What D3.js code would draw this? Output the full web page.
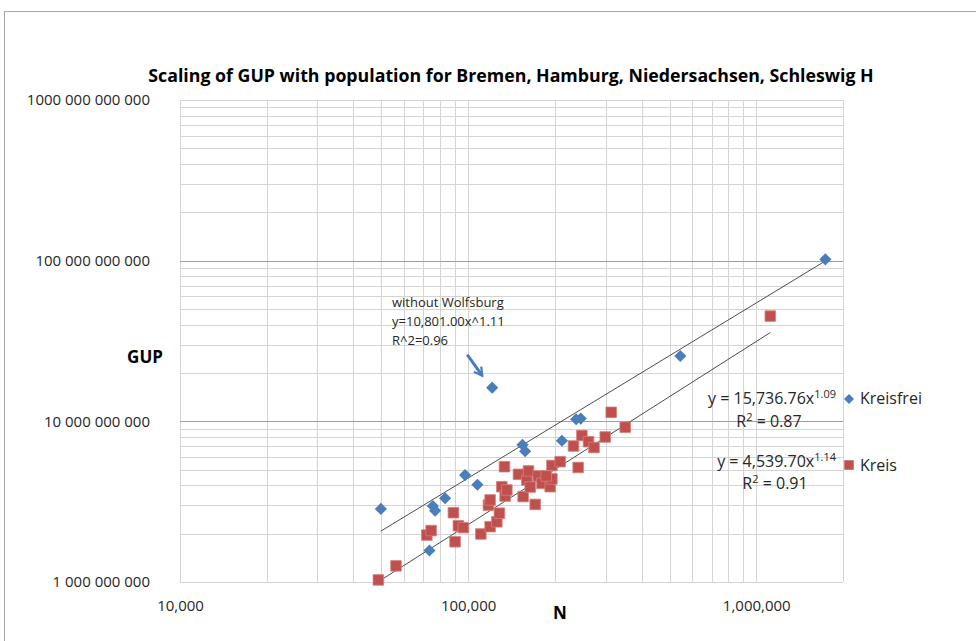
<!DOCTYPE html>
<html>
<head>
<meta charset="utf-8">
<script src="https://d3js.org/d3.v7.min.js"></script>
<style>
	body { margin: 0; background: #fff; }
	text { font-family: "Open Sans", sans-serif; }
	.tick text { fill: #262626; font-size: 15px; }
</style>
</head>
<body>
<div id="chart"></div>
<script>
//--------------------------------- Data ---------------------------------------
// Kreisfreie Staedte: population N and GUP
var kreisfreiN   = [49800, 1737000, 545000, 121200, 237000, 246000, 211600, 154400, 157700, 97600, 107700, 83200, 75400, 76800, 73400];
var kreisfreiGUP = [2.85e9, 1.019e11, 2.55e10, 1.62e10, 1.03e10, 1.04e10, 7.57e9, 7.15e9, 6.51e9, 4.63e9, 4.03e9, 3.32e9, 2.97e9, 2.78e9, 1.57e9];

// Kreise
var kreisN   = [48800, 56200, 71900, 74400, 88900, 90100, 92500, 96300, 110700, 117600,
                119200, 119200, 125800, 128400, 130900, 134400, 136300, 133700, 149500, 155200,
                159900, 162000, 170900, 175000, 180300, 192600, 195300, 195300, 208600, 232100,
                240900, 248200, 261700, 273500, 299100, 313700, 350900, 1118600, 186600, 164200];
var kreisGUP = [1.03e9, 1.26e9, 1.96e9, 2.09e9, 2.70e9, 1.78e9, 2.24e9, 2.18e9, 1.99e9, 3.01e9,
                3.24e9, 2.21e9, 2.37e9, 2.68e9, 3.92e9, 3.43e9, 3.74e9, 5.22e9, 4.68e9, 3.40e9,
                4.31e9, 4.91e9, 3.04e9, 4.57e9, 4.11e9, 3.92e9, 4.38e9, 5.31e9, 5.61e9, 7.02e9,
                5.16e9, 8.16e9, 7.47e9, 6.87e9, 7.99e9, 1.138e10, 9.19e9, 4.52e10, 4.57e9, 3.90e9];

// power law fits y = a * x^b
var trendA = [15736.76, 4539.70];
var trendB = [1.09, 1.14];
var trendR2 = ["0.87", "0.91"];
var seriesNames = ["Kreisfrei", "Kreis"];

var xTickValues = [1e4, 1e5, 1e6];
var xTickLabels = ["10,000", "100,000", "1,000,000"];
var yTickValues = [1e9, 1e10, 1e11, 1e12];
var yTickLabels = ["1 000 000 000", "10 000 000 000", "100 000 000 000", "1000 000 000 000"];

//--------------------------------- Set up svg ---------------------------------------
var width = 976, height = 641;
var plot = {left: 180, right: 843, top: 100, bottom: 582};

var svg = d3.select("#chart")
	.append("svg")
	.attr("width", width)
	.attr("height", height);

// outer chart frame (cropped on right/bottom)
svg.append("rect")
	.attr("x", 4.5).attr("y", 11.5)
	.attr("width", 1000).attr("height", 700)
	.style("fill", "none")
	.style("stroke", "#a6a6a6");

var x = d3.scaleLog()
	.domain([1e4, 2e6])
	.range([plot.left, plot.right]);
var y = d3.scaleLog()
	.domain([1e9, 1e12])
	.range([plot.bottom, plot.top]);

var blue = "#4a7ebb", red = "#c0504d";

//--------------------------------- Gridlines ---------------------------------------
var grid = svg.append("g").attr("class", "grid");
grid.selectAll(".vgrid")
	.data(x.ticks())
	.enter().append("line")
	.attr("x1", function(d) { return Math.round(x(d)) + 0.5; })
	.attr("x2", function(d) { return Math.round(x(d)) + 0.5; })
	.attr("y1", plot.top).attr("y2", plot.bottom)
	.style("stroke", "#d4d4d4");
grid.selectAll(".hgrid")
	.data(y.ticks())
	.enter().append("line")
	.attr("y1", function(d) { return Math.round(y(d)) + 0.5; })
	.attr("y2", function(d) { return Math.round(y(d)) + 0.5; })
	.attr("x1", plot.left).attr("x2", plot.right)
	.style("stroke", function(d) {
		return (d === 1e10 || d === 1e11) ? "#a0a0a0" : "#d4d4d4";
	});

//--------------------------------- Axes ---------------------------------------
var xAxis = d3.axisBottom(x)
	.tickValues(xTickValues)
	.tickSize(0)
	.tickPadding(18)
	.tickFormat(function(d, i) { return xTickLabels[i]; });
svg.append("g")
	.attr("transform", "translate(0," + plot.bottom + ")")
	.call(xAxis)
	.call(function(g) { g.select(".domain").remove(); });

var yAxis = d3.axisLeft(y)
	.tickValues(yTickValues)
	.tickSize(0)
	.tickPadding(30)
	.tickFormat(function(d, i) { return yTickLabels[i]; });
svg.append("g")
	.attr("transform", "translate(" + plot.left + ",0)")
	.call(yAxis)
	.call(function(g) { g.select(".domain").remove(); });
svg.selectAll(".tick text").style("font-family", "'Open Sans', sans-serif");

// axis titles
svg.append("text")
	.attr("x", 145).attr("y", 363)
	.style("text-anchor", "middle")
	.style("font-weight", "bold")
	.style("font-size", "17px")
	.text("GUP");
svg.append("text")
	.attr("x", 560).attr("y", 619)
	.style("text-anchor", "middle")
	.style("font-weight", "bold")
	.style("font-size", "17px")
	.text("N");

// title, fitted to the width of the original
var title = svg.append("text")
	.attr("x", 511).attr("y", 82)
	.style("text-anchor", "middle")
	.style("font-weight", "bold")
	.style("font-size", "16px")
	.style("fill", "#000")
	.text("Scaling of GUP with population for Bremen, Hamburg, Niedersachsen, Schleswig H");
var tl = title.node().getComputedTextLength();
title.style("font-size", (16 * 726 / tl) + "px");

//--------------------------------- Trend lines ---------------------------------------
var series = [
	{n: kreisfreiN, g: kreisfreiGUP},
	{n: kreisN, g: kreisGUP}
];
var line = d3.line()
	.x(function(d) { return x(d[0]); })
	.y(function(d) { return y(d[1]); });

series.forEach(function(s, i) {
	var ext = d3.extent(s.n);
	var pts = [ext[0], ext[1]].map(function(v) { return [v, trendA[i] * Math.pow(v, trendB[i])]; });
	svg.append("path")
		.attr("d", line(pts))
		.style("fill", "none")
		.style("stroke", "#4d4d4d")
		.style("stroke-width", 1);
});

//--------------------------------- Points ---------------------------------------
var diamond = d3.symbol().type(d3.symbolSquare).size(74);
var square = d3.symbol().type(d3.symbolSquare).size(112);

svg.append("g").selectAll("path")
	.data(d3.range(kreisN.length))
	.enter().append("path")
	.attr("d", square)
	.attr("transform", function(i) { return "translate(" + x(kreisN[i]) + "," + y(kreisGUP[i]) + ")"; })
	.style("fill", red)
	.style("stroke", "#d3807e")
	.style("stroke-width", 0.8);

svg.append("g").selectAll("path")
	.data(d3.range(kreisfreiN.length))
	.enter().append("path")
	.attr("d", diamond)
	.attr("transform", function(i) { return "translate(" + x(kreisfreiN[i]) + "," + y(kreisfreiGUP[i]) + ") rotate(45)"; })
	.style("fill", blue);

//--------------------------------- Trend labels ---------------------------------------
var labelPos = [{x: 836, y: 404, ry: 427, rx: 769}, {x: 836, y: 467, ry: 489, rx: 775}];
labelPos.forEach(function(p, i) {
	var t = svg.append("text")
		.attr("x", p.x).attr("y", p.y)
		.style("text-anchor", "end")
		.style("font-size", "16px")
		.style("fill", "#262626");
	t.append("tspan").text("y = " + d3.format(",.2f")(trendA[i]) + "x");
	t.append("tspan").attr("dy", -6).style("font-size", "11px").text(trendB[i].toFixed(2));
	var r = svg.append("text")
		.attr("x", p.rx).attr("y", p.ry)
		.style("text-anchor", "middle")
		.style("font-size", "16px")
		.style("fill", "#262626");
	r.append("tspan").text("R");
	r.append("tspan").attr("dy", -6).style("font-size", "11px").text("2");
	r.append("tspan").attr("dy", 6).text(" = " + trendR2[i]);
});

//--------------------------------- Legend ---------------------------------------
var legend = svg.append("g");
legend.append("path")
	.attr("d", d3.symbol().type(d3.symbolSquare).size(50))
	.attr("transform", "translate(849,399) rotate(45)")
	.style("fill", blue);
legend.append("path")
	.attr("d", d3.symbol().type(d3.symbolSquare).size(90))
	.attr("transform", "translate(849,465)")
	.style("fill", red);
legend.selectAll("text")
	.data(seriesNames)
	.enter().append("text")
	.attr("x", 860)
	.attr("y", function(d, i) { return i === 0 ? 404 : 471; })
	.style("font-size", "16px")
	.style("fill", "#262626")
	.text(function(d) { return d; });

//--------------------------------- Wolfsburg note ---------------------------------------
var note = svg.append("text")
	.attr("x", 392).attr("y", 307)
	.style("font-size", "13px")
	.style("fill", "#262626");
["without Wolfsburg", "y=10,801.00x^1.11", "R^2=0.96"].forEach(function(s, i) {
	note.append("tspan").attr("x", 392).attr("dy", i === 0 ? 0 : 19).text(s);
});

var wx = x(121200), wy = y(1.62e10);
svg.append("defs").append("marker")
	.attr("id", "arrowhead")
	.attr("viewBox", "0 0 10 10")
	.attr("refX", 8).attr("refY", 5)
	.attr("markerWidth", 3.8).attr("markerHeight", 3.8)
	.attr("orient", "auto")
	.append("path")
	.attr("d", "M1,1 L8,5 L1,9")
	.style("fill", "none")
	.style("stroke", blue)
	.style("stroke-width", 2);
svg.append("line")
	.attr("x1", wx - 25).attr("y1", wy - 33)
	.attr("x2", wx - 10).attr("y2", wy - 12)
	.attr("marker-end", "url(#arrowhead)")
	.style("stroke", blue)
	.style("stroke-width", 3);
</script>
</body>
</html>
